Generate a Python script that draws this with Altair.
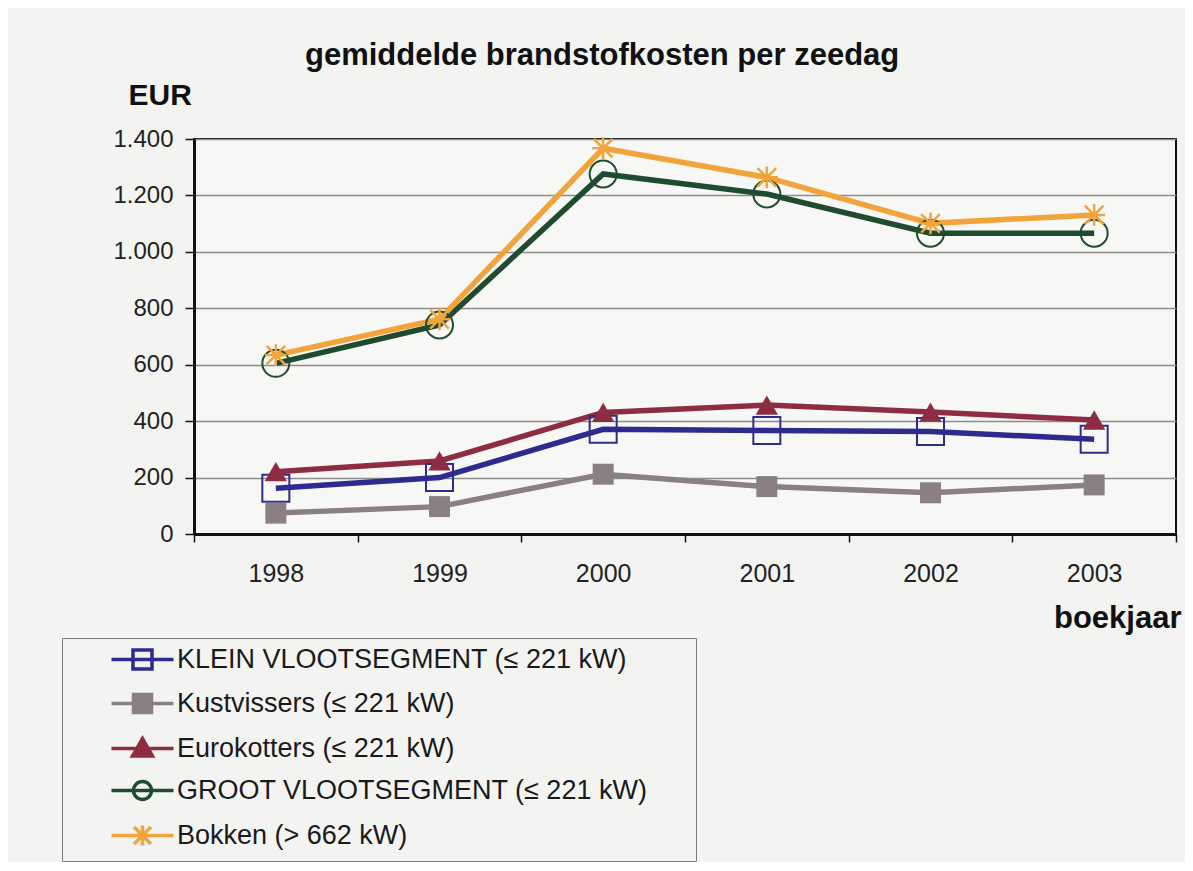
import altair as alt
import pandas as pd

FONT = "Liberation Sans"

years = ["1998", "1999", "2000", "2001", "2002", "2003"]
series_names = [
    "KLEIN VLOOTSEGMENT (≤ 221 kW)",
    "Kustvissers (≤ 221 kW)",
    "Eurokotters (≤ 221 kW)",
    "GROOT VLOOTSEGMENT (≤ 221 kW)",
    "Bokken (> 662 kW)",
]
klein = [162, 200, 371, 367, 363, 336]
kust = [74, 97, 212, 168, 146, 174]
euro = [221, 259, 431, 457, 432, 404]
groot = [605, 741, 1276, 1205, 1066, 1066]
bokken = [634, 761, 1367, 1264, 1101, 1131]
y_ticks = [0, 200, 400, 600, 800, 1000, 1200, 1400]

colors = ["#2e2b8e", "#8a7f84", "#8e2d42", "#1f4b2f", "#f2a33a"]

rows = []
for name, vals in zip(series_names, [klein, kust, euro, groot, bokken]):
    for yr, v in zip(years, vals):
        rows.append({"jaar": yr, "reeks": name, "kosten": v})
df = pd.DataFrame(rows)

# marker paths
ASTER = "M0,-1V1M-0.85,-0.85L0.85,0.85M-0.85,0.85L0.85,-0.85M-1,0H1"
LINE = "M-3.1,0H3.1"
SQ_OPEN = "M-0.95,-0.95H0.95V0.95H-0.95Z"
SQ_FILL = ("M-0.9,-0.9H0.9V0.9H-0.9Z"
           "M-0.9,-0.6H0.9M-0.9,-0.3H0.9M-0.9,0H0.9M-0.9,0.3H0.9M-0.9,0.6H0.9")
TRI_FILL = ("M0,-1L-1,0.75H1Z"
            "M-0.17,-0.7H0.17M-0.34,-0.4H0.34M-0.51,-0.1H0.51"
            "M-0.69,0.2H0.69M-0.86,0.5H0.86")
CIRC = ("M-0.9,0C-0.9,-0.497 -0.497,-0.9 0,-0.9C0.497,-0.9 0.9,-0.497 0.9,0"
        "C0.9,0.497 0.497,0.9 0,0.9C-0.497,0.9 -0.9,0.497 -0.9,0Z")
legend_shapes = [LINE + SQ_OPEN, LINE + SQ_FILL, LINE + TRI_FILL, LINE + CIRC, LINE + ASTER]

x_enc = alt.X(
    "jaar:O",
    scale=alt.Scale(type="band", domain=years, paddingInner=0, paddingOuter=0),
    axis=alt.Axis(
        title="boekjaar", labelAngle=0, tickBand="extent", grid=False,
        domainColor="#111", domainWidth=3, tickColor="#111", tickWidth=1.5, tickSize=8,
        labelFont=FONT, labelFontSize=25, labelColor="#222", labelPadding=19,
        titleFont=FONT, titleFontSize=31, titleFontWeight="bold", titleColor="#111",
        titleAlign="right", titleBaseline="alphabetic", titleX=987, titleY=93,
    ),
)
y_enc = alt.Y(
    "kosten:Q",
    scale=alt.Scale(domain=[0, 1400], nice=False, zero=True),
    axis=alt.Axis(
        values=y_ticks, labelExpr="replace(format(datum.value, ','), ',', '.')",
        domainColor="#111", domainWidth=3, tickColor="#111", tickWidth=1.5, tickSize=9,
        grid=True, gridColor="#8c8c8c", gridWidth=1.3,
        labelFont=FONT, labelFontSize=24, labelColor="#222", labelPadding=12,
        title="EUR", titleAngle=0, titleAlign="left", titleBaseline="alphabetic",
        titleX=-66, titleY=-35, titleFont=FONT, titleFontSize=30,
        titleFontWeight="bold", titleColor="#111",
    ),
)

marker_styles = [
    dict(shape="square", size=729, filled=False, strokeWidth=2),
    dict(shape="square", size=441, filled=True),
    dict(shape="triangle-up", size=500, filled=True),
    dict(shape="circle", size=729, filled=False, strokeWidth=2),
    dict(shape=ASTER, size=480, filled=False, strokeWidth=2.5),
]

line_layers = []
point_layers = []
for name, col, st in zip(series_names, colors, marker_styles):
    sub = alt.Chart(df).transform_filter(alt.datum.reeks == name)
    line_layers.append(
        sub.mark_line(strokeWidth=5.5, color=col).encode(x=x_enc, y=y_enc)
    )
    point_layers.append(
        sub.mark_point(color=col, opacity=1, **st).encode(x=x_enc, y=y_enc)
    )

leg = alt.Legend(
    title=None, orient="none", legendX=-132, legendY=499, direction="vertical",
    padding=8, rowPadding=11, strokeColor="#7a7a7a", symbolOpacity=1,
    symbolSize=400, symbolStrokeWidth=3.5, symbolOffset=59, labelOffset=21,
    labelFont=FONT, labelFontSize=27, labelColor="#1a1a1a", labelLimit=900,
    labelExpr="datum.label + '\u2800\u2800'",
)
legend_layer = alt.Chart(df).mark_point(opacity=0).encode(
    x=x_enc, y=y_enc,
    stroke=alt.Stroke("reeks:N", scale=alt.Scale(domain=series_names, range=colors), legend=leg),
    shape=alt.Shape("reeks:N", scale=alt.Scale(domain=series_names, range=legend_shapes), legend=leg),
)

chart = alt.layer(*line_layers, *point_layers, legend_layer).properties(
    width=982, height=395,
    title=alt.TitleParams(
        text="gemiddelde brandstofkosten per zeedag", anchor="start", frame="group",
        dx=111, offset=8, font=FONT, fontSize=31, fontWeight="bold", color="#111",
    ),
    padding={"left": 186, "top": 131, "right": 9, "bottom": 328},
    autosize=alt.AutoSizeParams(type="none"),
    background="#f3f4f2",
).configure_view(stroke="#111", strokeWidth=2, fill="#f7f8f6")

chart.save("out.html", embed_options={"renderer": "svg", "actions": False})
